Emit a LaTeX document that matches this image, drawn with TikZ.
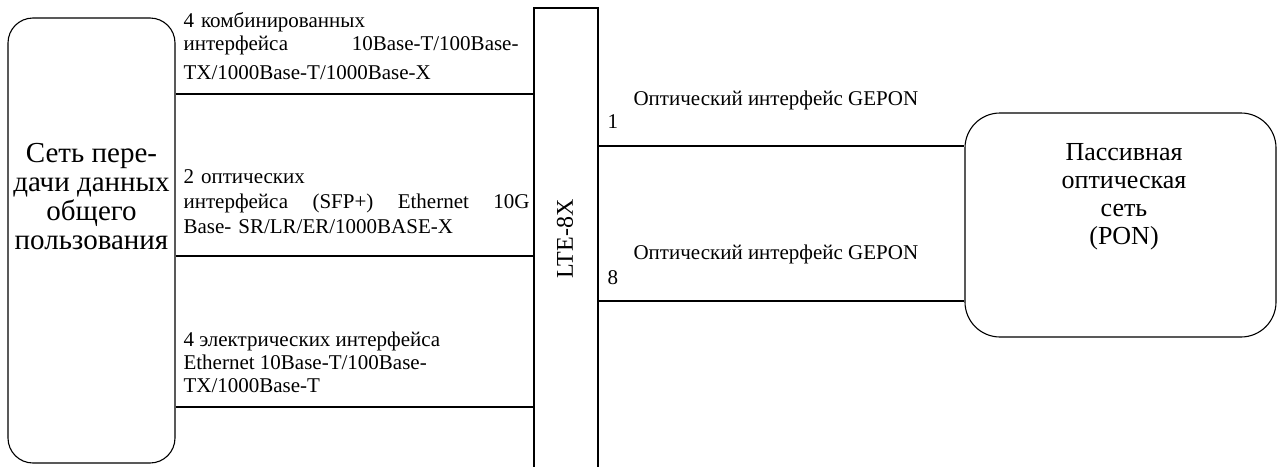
\documentclass[tikz,border=0pt]{standalone}
\usepackage{fontspec}
\setmainfont{Liberation Serif}
\begin{document}
\begin{tikzpicture}[x=1pt,y=-1pt,line width=1.1pt,
    netbox/.style={draw, rounded corners=25pt, minimum width=167pt, minimum height=445pt, inner sep=0pt},
    ponbox/.style={draw, rounded corners=35pt, minimum width=311pt, minimum height=224pt, inner sep=0pt},
    ltebox/.style={draw, minimum width=64pt, minimum height=472pt, inner sep=0pt},
    boxtext/.style={align=center, inner sep=0pt},
    portlabel/.style={anchor=north west, align=left, inner sep=0pt, font=\fontsize{21}{24}\selectfont}]
    \useasboundingbox (0,0) rectangle (1277,466);

    % Boxes
    \node[netbox] (net) at (91.5,240.5) {};
    \node[ltebox] (lte) at (566,244) {};
    \node[ponbox] (pon) at (1120.5,225) {};

    % Box texts
    \node[boxtext, font=\fontsize{29}{29}\selectfont] (nettxt) at (91.5,197) {Сеть пере-\\дачи данных\\общего\\пользования};
    \node[boxtext, font=\fontsize{26}{28}\selectfont] (pontxt) at (1124,197) {Пассивная\\оптическая\\сеть\\(PON)};
    \node[boxtext, font=\fontsize{24}{24}\selectfont, rotate=90] (ltetxt) at (565,239) {LTE-8X};

    % Links to the data network
    \foreach \y in {94,256,407}
        \draw (net.east |- 0,\y) -- (lte.west |- 0,\y);

    % Links to the PON
    \foreach \y in {146,301}
        \draw (lte.east |- 0,\y) -- (pon.west |- 0,\y);

    % Interface labels, left side
    \node[portlabel, text width=335pt] (combo) at (183,12)
        {4 комбинированных\\[-1pt]\makebox[335pt][l]{интерфейса\hfill 10Base-T/100Base-}\\[5pt]TX/1000Base-T/1000Base-X};
    \node[portlabel, text width=346pt] (sfp) at (183,169)
        {2 оптических\\[1pt]\makebox[346pt][l]{интерфейса\hfill (SFP+)\hfill Ethernet\hfill 10G}\\[1pt]Base- SR/LR/ER/1000BASE-X};
    \node[portlabel] (elec) at (183,331)
        {4 электрических интерфейса\\[-1pt]Ethernet 10Base-T/100Base-\\[-1pt]TX/1000Base-T};

    % Interface labels, right side
    \node[portlabel] (gepon1) at (633,90) {Оптический интерфейс GEPON};
    \node[portlabel] (port1) at (607,114) {1};
    \node[portlabel] (gepon8) at (633,244) {Оптический интерфейс GEPON};
    \node[portlabel] (port8) at (607,270) {8};
\end{tikzpicture}
\end{document}
